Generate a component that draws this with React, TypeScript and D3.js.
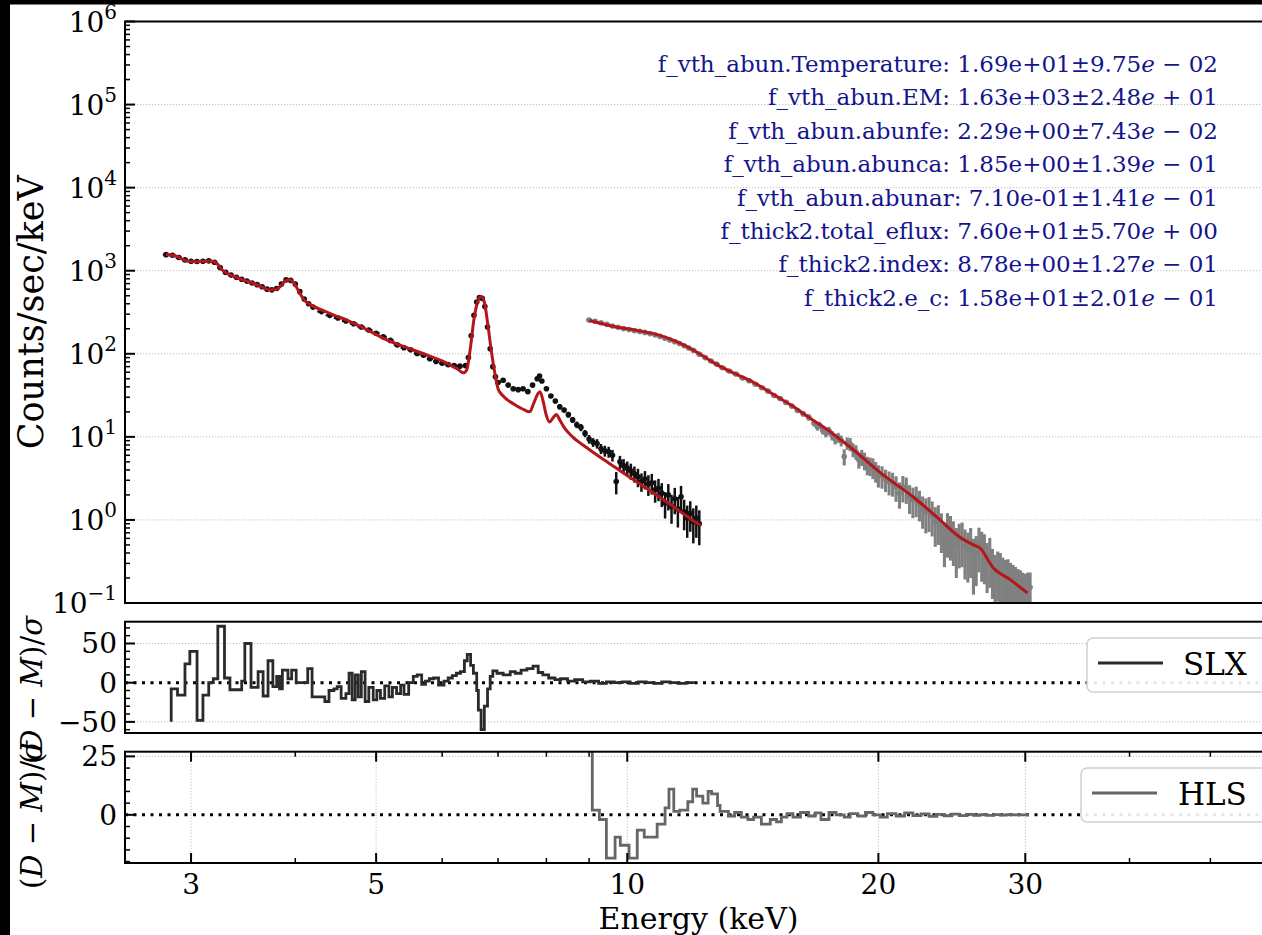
import React from 'react';
import * as d3 from 'd3';

// SLX spectrum: [energy keV, counts/sec/keV, relative error]
const slxData: [number, number, number][] = [
  [2.80,1560,.01],[2.85,1535,.01],[2.90,1440,.01],[2.95,1350,.01],[3.00,1300,.01],[3.05,1290,.01],[3.10,1300,.01],
  [3.15,1315,.01],[3.20,1265,.01],[3.25,1090,.01],[3.30,955,.01],[3.35,885,.01],[3.40,835,.01],[3.45,790,.012],
  [3.50,750,.012],[3.55,712,.012],[3.60,680,.012],[3.65,640,.012],[3.70,600,.012],[3.75,588,.012],[3.80,610,.012],
  [3.85,690,.012],[3.90,775,.012],[3.95,765,.012],[4.00,690,.012],[4.05,560,.015],[4.10,455,.015],[4.15,400,.015],
  [4.20,365,.015],[4.30,322,.015],[4.40,290,.018],[4.50,270,.018],[4.60,248,.018],[4.70,230,.02],[4.80,210,.02],
  [4.90,193,.02],[5.00,177,.022],[5.10,160,.022],[5.20,145,.025],[5.30,128,.025],[5.40,118,.025],[5.50,112,.028],
  [5.60,101,.028],[5.70,96,.03],[5.80,87,.03],[5.90,81,.03],[6.00,77,.032],[6.10,74,.032],[6.20,72,.035],
  [6.30,71,.035],[6.40,72,.035],[6.45,90,.03],[6.50,165,.02],[6.55,290,.015],[6.60,420,.012],[6.65,475,.012],
  [6.70,465,.012],[6.75,370,.015],[6.80,210,.02],[6.85,115,.03],[6.90,70,.035],[6.95,53,.04],[7.00,45,.045],
  [7.10,48,.045],[7.20,42,.05],[7.30,38,.05],[7.40,37,.05],[7.50,38,.05],[7.60,35,.05],[7.70,42,.05],[7.80,50,.045],
  [7.85,54,.045],[7.90,47,.05],[8.00,38,.05],[8.10,31,.06],[8.20,27,.06],[8.30,23,.07],[8.40,21,.07],[8.50,18.5,.08],
  [8.60,16,.08],[8.70,14,.09],[8.80,13,.1],[8.90,11,.1],[9.00,9.4,.12],[9.10,8.6,.12],[9.20,8.3,.13],[9.30,7.2,.14],
  [9.40,6.8,.15],[9.50,6.6,.15],[9.60,6.0,.16],[9.70,2.9,.3],[9.80,5.0,.18],[9.90,4.5,.2],[10.0,4.2,.2],[10.1,3.9,.22],
  [10.2,3.6,.22],[10.3,3.3,.25],[10.4,2.9,.25],[10.5,3.1,.25],[10.6,2.7,.28],[10.7,2.8,.28],[10.8,2.3,.3],
  [10.9,2.4,.3],[11.0,2.1,.32],[11.1,1.6,.35],[11.2,2.0,.35],[11.3,1.45,.38],[11.4,1.8,.35],[11.5,1.35,.4],
  [11.6,1.9,.35],[11.7,1.25,.4],[11.8,1.05,.42],[11.9,1.2,.4],[12.0,0.95,.45],[12.1,1.05,.42],[12.2,0.9,.45],
];

// HLS spectrum: [energy keV, counts/sec/keV, relative error]
const hlsData: [number, number, number][] = [
  [9.00,255,.02],[9.15,246,.02],[9.30,236,.02],[9.45,226,.02],[9.60,216,.02],[9.75,208,.02],[9.90,201,.02],
  [10.05,196,.02],[10.20,190,.02],[10.35,186,.02],[10.50,181,.02],[10.65,175,.025],[10.80,169,.025],[10.95,162,.025],
  [11.10,154,.025],[11.25,147,.025],[11.40,140,.025],[11.55,133,.03],[11.70,125,.03],[11.85,117,.03],[12.00,110,.03],
  [12.20,99,.03],[12.40,90,.03],[12.60,82,.035],[12.80,75,.035],[13.00,68,.035],[13.25,62,.04],[13.50,57,.04],
  [13.75,51,.04],[14.00,47.5,.045],[14.25,43,.045],[14.50,39,.05],[14.75,35.5,.05],[15.00,31.5,.055],[15.25,29,.06],
  [15.50,26,.06],[15.75,23.5,.065],[16.00,20.8,.07],[16.25,19,.08],[16.50,17.2,.09],[16.75,14.6,.09],[16.90,13.2,.1],
  [17.00,13.8,.1],[17.15,12.0,.11],[17.30,11.2,.12],[17.45,11.8,.12],[17.60,10.4,.13],[17.75,9.4,.14],[17.90,9.8,.14],
  [18.05,9.0,.15],[18.20,5.8,.22],[18.35,8.4,.17],[18.50,8.2,.18],[18.65,7.0,.19],[18.80,6.6,.2],[18.95,5.3,.22],
  [19.10,5.7,.22],[19.25,5.2,.24],[19.40,4.6,.25],[19.55,4.5,.25],[19.70,4.3,.28],[19.85,3.9,.28],[20.00,3.5,.3],
  [20.20,3.4,.3],[20.40,3.1,.3],[20.60,2.9,.32],[20.80,2.8,.32],[21.00,2.5,.34],[21.20,2.1,.35],[21.40,2.5,.35],
  [21.60,2.4,.35],[21.80,1.9,.38],[22.00,1.75,.4],[22.20,1.8,.4],[22.40,1.6,.4],[22.60,1.35,.42],[22.80,1.25,.45],
  [23.00,1.3,.45],[23.20,1.15,.45],[23.40,0.95,.5],[23.60,1.0,.5],[23.80,0.8,.5],[24.00,0.6,.55],[24.20,0.78,.55],
  [24.40,0.72,.55],[24.60,0.62,.55],[24.80,0.5,.6],[25.00,0.58,.55],[25.20,0.6,.55],[25.40,0.48,.6],[25.60,0.44,.6],
  [25.80,0.5,.6],[26.00,0.36,.65],[26.20,0.4,.6],[26.40,0.52,.55],[26.60,0.45,.6],[26.80,0.42,.6],[27.00,0.33,.6],
  [27.20,0.38,.6],[27.40,0.28,.6],[27.60,0.23,.65],[27.80,0.26,.6],[28.00,0.25,.6],[28.20,0.22,.6],[28.40,0.2,.65],
  [28.60,0.21,.6],[28.80,0.19,.6],[29.00,0.18,.6],[29.20,0.17,.6],[29.40,0.16,.6],[29.60,0.15,.65],[29.80,0.145,.6],
  [30.00,0.14,.6],[30.20,0.15,.55],[30.40,0.155,.5],
];

// fitted models: [energy keV, counts/sec/keV]
const slxModel: [number, number][] = [
  [2.80,1570],[2.84,1545],[2.88,1500],[2.92,1400],[2.97,1300],[3.03,1285],[3.10,1300],[3.17,1310],[3.22,1230],
  [3.27,1020],[3.32,920],[3.39,840],[3.48,760],[3.58,692],[3.66,625],[3.72,588],[3.78,592],[3.84,650],[3.89,750],
  [3.93,780],[3.98,725],[4.04,560],[4.10,445],[4.18,385],[4.30,337],[4.45,292],[4.61,255],[4.85,200],[5.15,147],
  [5.45,118],[5.75,97],[6.05,79],[6.25,66],[6.36,59],[6.42,64],[6.48,110],[6.55,260],[6.62,430],[6.68,490],
  [6.74,420],[6.80,240],[6.87,110],[6.94,58],[7.00,38],[7.10,31],[7.30,25],[7.50,21.5],[7.64,20],[7.72,25],
  [7.80,32],[7.86,35],[7.92,28],[8.00,18],[8.07,15.1],[8.15,17],[8.22,18.6],[8.30,16],[8.40,13],[8.60,10],
  [8.91,7.6],[9.30,5.6],[9.67,4.3],[10.10,3.2],[10.62,2.3],[11.30,1.5],[12.05,0.95],[12.25,0.86],
];
const hlsModel: [number, number][] = [
  [9.00,252],[9.67,212],[10.30,190],[10.92,168],[11.50,138],[12.05,108],[12.50,86],[12.97,69],[13.60,55],
  [14.21,44.5],[15.00,32],[15.85,22.9],[16.60,16.5],[17.40,12.1],[18.00,9.3],[18.68,6.95],[20.12,3.68],
  [22.02,1.89],[23.71,1.0],[25.05,0.62],[26.00,0.5],[26.46,0.46],[27.42,0.27],[28.80,0.19],[30.18,0.132],
];

// residuals (D-M)/sigma: [bin upper energy keV, value]
const slxResid: [number, number][] = [
  [2.84,-50],[2.89,-8],[2.95,-16],[2.99,24],[3.05,40],[3.10,-48],[3.15,-16],[3.19,0],[3.23,5],[3.29,72],[3.34,6],
  [3.45,-9],[3.48,2],[3.54,50],[3.61,-6],[3.66,14],[3.71,-17],[3.76,28],[3.80,-5],[3.83,8],[3.86,-8],[3.92,16],
  [3.96,5],[4.01,16],[4.14,0],[4.19,18],[4.34,-18],[4.39,-24],[4.45,-10],[4.49,-8],[4.54,-5],[4.60,-20],[4.64,-14],
  [4.68,12],[4.72,-22],[4.76,10],[4.80,-18],[4.85,14],[4.90,-24],[4.96,-6],[5.01,-22],[5.06,-10],[5.12,-20],
  [5.18,-4],[5.23,-18],[5.29,-6],[5.35,-14],[5.40,-3],[5.47,-15],[5.54,0],[5.60,8],[5.67,10],[5.73,-2],[5.79,2],
  [5.86,5],[5.94,6],[6.03,-3],[6.10,2],[6.17,6],[6.24,9],[6.31,12],[6.38,14],[6.43,28],[6.49,36],[6.54,22],
  [6.60,12],[6.63,-10],[6.68,-35],[6.74,-60],[6.80,-30],[6.85,-8],[6.90,8],[6.98,15],[7.10,12],[7.24,10],[7.34,14],
  [7.46,12],[7.58,16],[7.71,18],[7.82,21],[7.92,13],[8.05,10],[8.19,6],[8.32,4],[8.48,5],[8.65,2],[8.84,4],
  [9.03,1],[9.24,2],[9.44,-1],[9.65,1],[9.86,0],[10.08,1],[10.31,-1],[10.54,1],[10.77,0],[11.0,-1],[11.25,1],
  [11.5,0],[11.76,-1],[12.05,0],
];
const hlsResid: [number, number][] = [
  [9.08,27],[9.26,2],[9.44,-2],[9.67,-18.5],[9.81,-9.5],[10.05,-13],[10.28,-18.5],[10.48,-6.5],[10.86,-9.5],
  [11.10,-4],[11.22,3],[11.37,11],[11.56,1.5],[11.82,2],[11.98,5.6],[12.11,11],[12.32,8],[12.50,5],[12.62,10],
  [12.83,9],[12.92,4],[13.22,1.5],[13.45,-0.5],[13.70,1],[13.95,-1],[14.17,-2],[14.48,-1],[14.84,-4],[15.10,-2],
  [15.30,-3],[15.54,-1],[15.80,0.5],[16.13,-1],[16.50,1],[16.80,-0.5],[17.07,0.8],[17.45,-2],[17.80,1],[18.20,0],
  [18.50,-1],[18.90,0.5],[19.30,-0.5],[19.70,1],[20.10,0],[20.50,-1],[21.00,0.5],[21.50,-0.5],[22.00,0.8],
  [22.50,-0.3],[23.00,0.4],[23.50,-0.6],[24.00,0.2],[24.50,-0.4],[25.00,0.3],[25.50,-0.3],[26.00,0.2],[26.50,-0.2],
  [27.00,0.1],[27.50,-0.2],[28.00,0.1],[28.50,-0.1],[29.00,0.1],[29.50,0],[30.30,0],
];

const fitNames = [
  'f_vth_abun.Temperature', 'f_vth_abun.EM', 'f_vth_abun.abunfe', 'f_vth_abun.abunca',
  'f_vth_abun.abunar', 'f_thick2.total_eflux', 'f_thick2.index', 'f_thick2.e_c',
];
const fitValues = ['1.69e+01', '1.63e+03', '2.29e+00', '1.85e+00', '7.10e-01', '7.60e+01', '8.78e+00', '1.58e+01'];
const fitErrors = ['9.75e-02', '2.48e+01', '7.43e-02', '1.39e-01', '1.41e-01', '5.70e+00', '1.27e-01', '2.01e-01'];

const xMajor = [3, 5, 10, 20, 30];
const xMinor = [4, 6, 7, 8, 9, 40, 50];
const yDecades = [-1, 0, 1, 2, 3, 4, 5, 6];
const r1Major = [-50, 0, 50];
const r2Major = [0, 25];

const FONT = 'DejaVu Serif';
const X0 = 125, X1 = 1266;
const M_TOP = 21.5, M_BOT = 603;
const R1_TOP = 621.7, R1_BOT = 733;
const R2_TOP = 751.7, R2_BOT = 863;
const RED = '#b4161b';
const NAVY = '#14148c';

function ErrorPoints({ data, color, x, y, width, r }: any) {
  return (
    <g>
      {data.map((d: [number, number, number], i: number) => {
        const [e, c, f] = d;
        const prev = i > 0 ? data[i - 1][0] : e * e / data[1][0];
        const next = i < data.length - 1 ? data[i + 1][0] : e * e / data[i - 1][0];
        const lo = Math.sqrt(prev * e), hi = Math.sqrt(e * next);
        const top = y(c * (1 + f)), bot = y(Math.max(c * (1 - f), 0.05));
        return (
          <g key={i}>
            <line x1={x(lo)} x2={x(hi)} y1={y(c)} y2={y(c)} stroke={color} strokeWidth={width} />
            <line x1={x(e)} x2={x(e)} y1={top} y2={bot} stroke={color} strokeWidth={width + 0.3} />
            <circle cx={x(e)} cy={y(c)} r={r} fill={color} />
          </g>
        );
      })}
    </g>
  );
}

function MathLabel({ cx, cy }: { cx: number; cy: number }) {
  return (
    <text transform={`translate(${cx},${cy}) rotate(-90)`} textAnchor="middle" fontSize={29} fontFamily={FONT}>
      (<tspan fontStyle="italic">D</tspan> − <tspan fontStyle="italic">M</tspan>)/<tspan fontStyle="italic">σ</tspan>
    </text>
  );
}

export default function App() {
  const x = d3.scaleLog().domain([2.5, 58.3]).range([X0, X1]);
  const y = d3.scaleLog().domain([0.1, 1e6]).range([M_BOT, M_TOP]);
  const yr1 = d3.scaleLinear().domain([-64.2, 77.8]).range([R1_BOT, R1_TOP]);
  const yr2 = d3.scaleLinear().domain([-20.6, 27]).range([R2_BOT, R2_TOP]);

  const model = d3.line<[number, number]>().x(d => x(d[0])).y(d => y(d[1])).curve(d3.curveMonotoneX);
  const step1 = d3.line<[number, number]>().x(d => x(d[0])).y(d => yr1(d[1])).curve(d3.curveStepBefore);
  const step2 = d3.line<[number, number]>().x(d => x(d[0])).y(d => yr2(d[1])).curve(d3.curveStepBefore);

  const minorMain: number[] = [];
  yDecades.slice(0, -1).forEach(k => d3.range(2, 10).forEach(m => minorMain.push(m * Math.pow(10, k))));
  const r1Minor = d3.range(-60, 80, 10).filter(v => !r1Major.includes(v));
  const r2Minor = d3.range(-20, 30, 5).filter(v => !r2Major.includes(v));

  const grid = { stroke: '#b8b8b8', strokeWidth: 0.9, strokeDasharray: '1.2,1.8' };

  return (
    <svg width={1262} height={935} style={{ position: 'absolute', left: 0, top: 0 }} fontFamily={FONT}>
      <defs>
        <clipPath id="cm"><rect x={X0} y={M_TOP} width={X1 - X0} height={M_BOT - M_TOP} /></clipPath>
        <clipPath id="c1"><rect x={X0} y={R1_TOP} width={X1 - X0} height={R1_BOT - R1_TOP} /></clipPath>
        <clipPath id="c2"><rect x={X0} y={R2_TOP} width={X1 - X0} height={R2_BOT - R2_TOP} /></clipPath>
      </defs>
      <rect width={1262} height={935} fill="#000" />
      <rect x={10} y={4.5} width={1252} height={931} fill="#fff" />

      {/* main panel */}
      {yDecades.slice(1, -1).map(k => (
        <line key={k} x1={X0} x2={X1} y1={y(Math.pow(10, k))} y2={y(Math.pow(10, k))} {...grid} />
      ))}
      <g clipPath="url(#cm)">
        <ErrorPoints data={slxData} color="#111" x={x} y={y} width={2.2} r={2.8} />
        <ErrorPoints data={hlsData} color="#808080" x={x} y={y} width={2.8} r={2.8} />
        <path d={model(slxModel) || ''} fill="none" stroke={RED} strokeWidth={3} />
        <path d={model(hlsModel) || ''} fill="none" stroke={RED} strokeWidth={3} />
      </g>
      {minorMain.map((v, i) => (
        <line key={i} x1={X0} x2={X0 + 5} y1={y(v)} y2={y(v)} stroke="#000" strokeWidth={1.5} />
      ))}
      {yDecades.map(k => (
        <g key={k}>
          <line x1={X0} x2={X0 + 10} y1={y(Math.pow(10, k))} y2={y(Math.pow(10, k))} stroke="#000" strokeWidth={2} />
          <text x={117} y={y(Math.pow(10, k)) + 10} textAnchor="end" fontSize={28}>
            10<tspan fontSize={20} dy={-13}>{k < 0 ? '−' + -k : k}</tspan>
          </text>
        </g>
      ))}
      <rect x={X0} y={M_TOP} width={X1 - X0} height={M_BOT - M_TOP} fill="none" stroke="#000" strokeWidth={2} />
      <text transform={`translate(43,${(M_TOP + M_BOT) / 2}) rotate(-90)`} textAnchor="middle" fontSize={35}>
        Counts/sec/keV
      </text>
      {fitNames.map((n, i) => {
        const [mant, ex] = fitErrors[i].split('e');
        return (
          <text key={n} x={1218} y={72 + i * 33.4} textAnchor="end" fontSize={23} fill={NAVY}>
            {n}: {fitValues[i]}±{mant}<tspan fontStyle="italic">e</tspan>
            {ex[0] === '-' ? ' − ' : ' + '}{ex.slice(1)}
          </text>
        );
      })}

      {/* SLX residuals */}
      {[50, -50].map(v => <line key={v} x1={X0} x2={X1} y1={yr1(v)} y2={yr1(v)} {...grid} />)}
      <line x1={X0} x2={X1} y1={yr1(0)} y2={yr1(0)} stroke="#000" strokeWidth={3} strokeDasharray="3,5.5" />
      <path d={step1(slxResid) || ''} fill="none" stroke="#2a2a2a" strokeWidth={2.8} clipPath="url(#c1)" />
      {r1Minor.map(v => <line key={v} x1={X0} x2={X0 + 5} y1={yr1(v)} y2={yr1(v)} stroke="#000" strokeWidth={1.5} />)}
      {r1Major.map(v => (
        <g key={v}>
          <line x1={X0} x2={X0 + 10} y1={yr1(v)} y2={yr1(v)} stroke="#000" strokeWidth={2} />
          <text x={117} y={yr1(v) + 10} textAnchor="end" fontSize={28}>{v < 0 ? '−' + -v : v}</text>
        </g>
      ))}
      <rect x={X0} y={R1_TOP} width={X1 - X0} height={R1_BOT - R1_TOP} fill="none" stroke="#000" strokeWidth={2} />
      <rect x={1087} y={638} width={200} height={54} rx={6} fill="#fff" fillOpacity={0.9} stroke="#d0d0d0" strokeWidth={1.5} />
      <line x1={1098} x2={1163} y1={663} y2={663} stroke="#2a2a2a" strokeWidth={3} />
      <text x={1183} y={675} fontSize={31}>SLX</text>
      <MathLabel cx={42} cy={690} />

      {/* HLS residuals */}
      {xMajor.map(v => <line key={v} x1={x(v)} x2={x(v)} y1={R2_TOP} y2={R2_BOT} {...grid} />)}
      {[25].map(v => <line key={v} x1={X0} x2={X1} y1={yr2(v)} y2={yr2(v)} {...grid} />)}
      <line x1={X0} x2={X1} y1={yr2(0)} y2={yr2(0)} stroke="#000" strokeWidth={3} strokeDasharray="3,5.5" />
      <path d={step2(hlsResid) || ''} fill="none" stroke="#666" strokeWidth={2.8} clipPath="url(#c2)" />
      {r2Minor.map(v => <line key={v} x1={X0} x2={X0 + 5} y1={yr2(v)} y2={yr2(v)} stroke="#000" strokeWidth={1.5} />)}
      {r2Major.map(v => (
        <g key={v}>
          <line x1={X0} x2={X0 + 10} y1={yr2(v)} y2={yr2(v)} stroke="#000" strokeWidth={2} />
          <text x={117} y={yr2(v) + 10} textAnchor="end" fontSize={28}>{v}</text>
        </g>
      ))}
      {xMinor.map(v => (
        <g key={v}>
          <line x1={x(v)} x2={x(v)} y1={R2_BOT} y2={R2_BOT - 5} stroke="#000" strokeWidth={1.5} />
          <line x1={x(v)} x2={x(v)} y1={R2_TOP} y2={R2_TOP + 5} stroke="#000" strokeWidth={1.5} />
        </g>
      ))}
      {xMajor.map(v => (
        <g key={v}>
          <line x1={x(v)} x2={x(v)} y1={R2_BOT} y2={R2_BOT - 10} stroke="#000" strokeWidth={2} />
          <line x1={x(v)} x2={x(v)} y1={R2_TOP} y2={R2_TOP + 10} stroke="#000" strokeWidth={2} />
          <text x={x(v)} y={894} textAnchor="middle" fontSize={28}>{v}</text>
        </g>
      ))}
      <rect x={X0} y={R2_TOP} width={X1 - X0} height={R2_BOT - R2_TOP} fill="none" stroke="#000" strokeWidth={2} />
      <rect x={1081} y={768} width={200} height={54} rx={6} fill="#fff" fillOpacity={0.9} stroke="#d0d0d0" strokeWidth={1.5} />
      <line x1={1092} x2={1157} y1={793} y2={793} stroke="#666" strokeWidth={3} />
      <text x={1178} y={805} fontSize={31}>HLS</text>
      <MathLabel cx={42} cy={815} />
      <text x={(X0 + X1) / 2 + 3} y={929} textAnchor="middle" fontSize={30}>Energy (keV)</text>
    </svg>
  );
}
